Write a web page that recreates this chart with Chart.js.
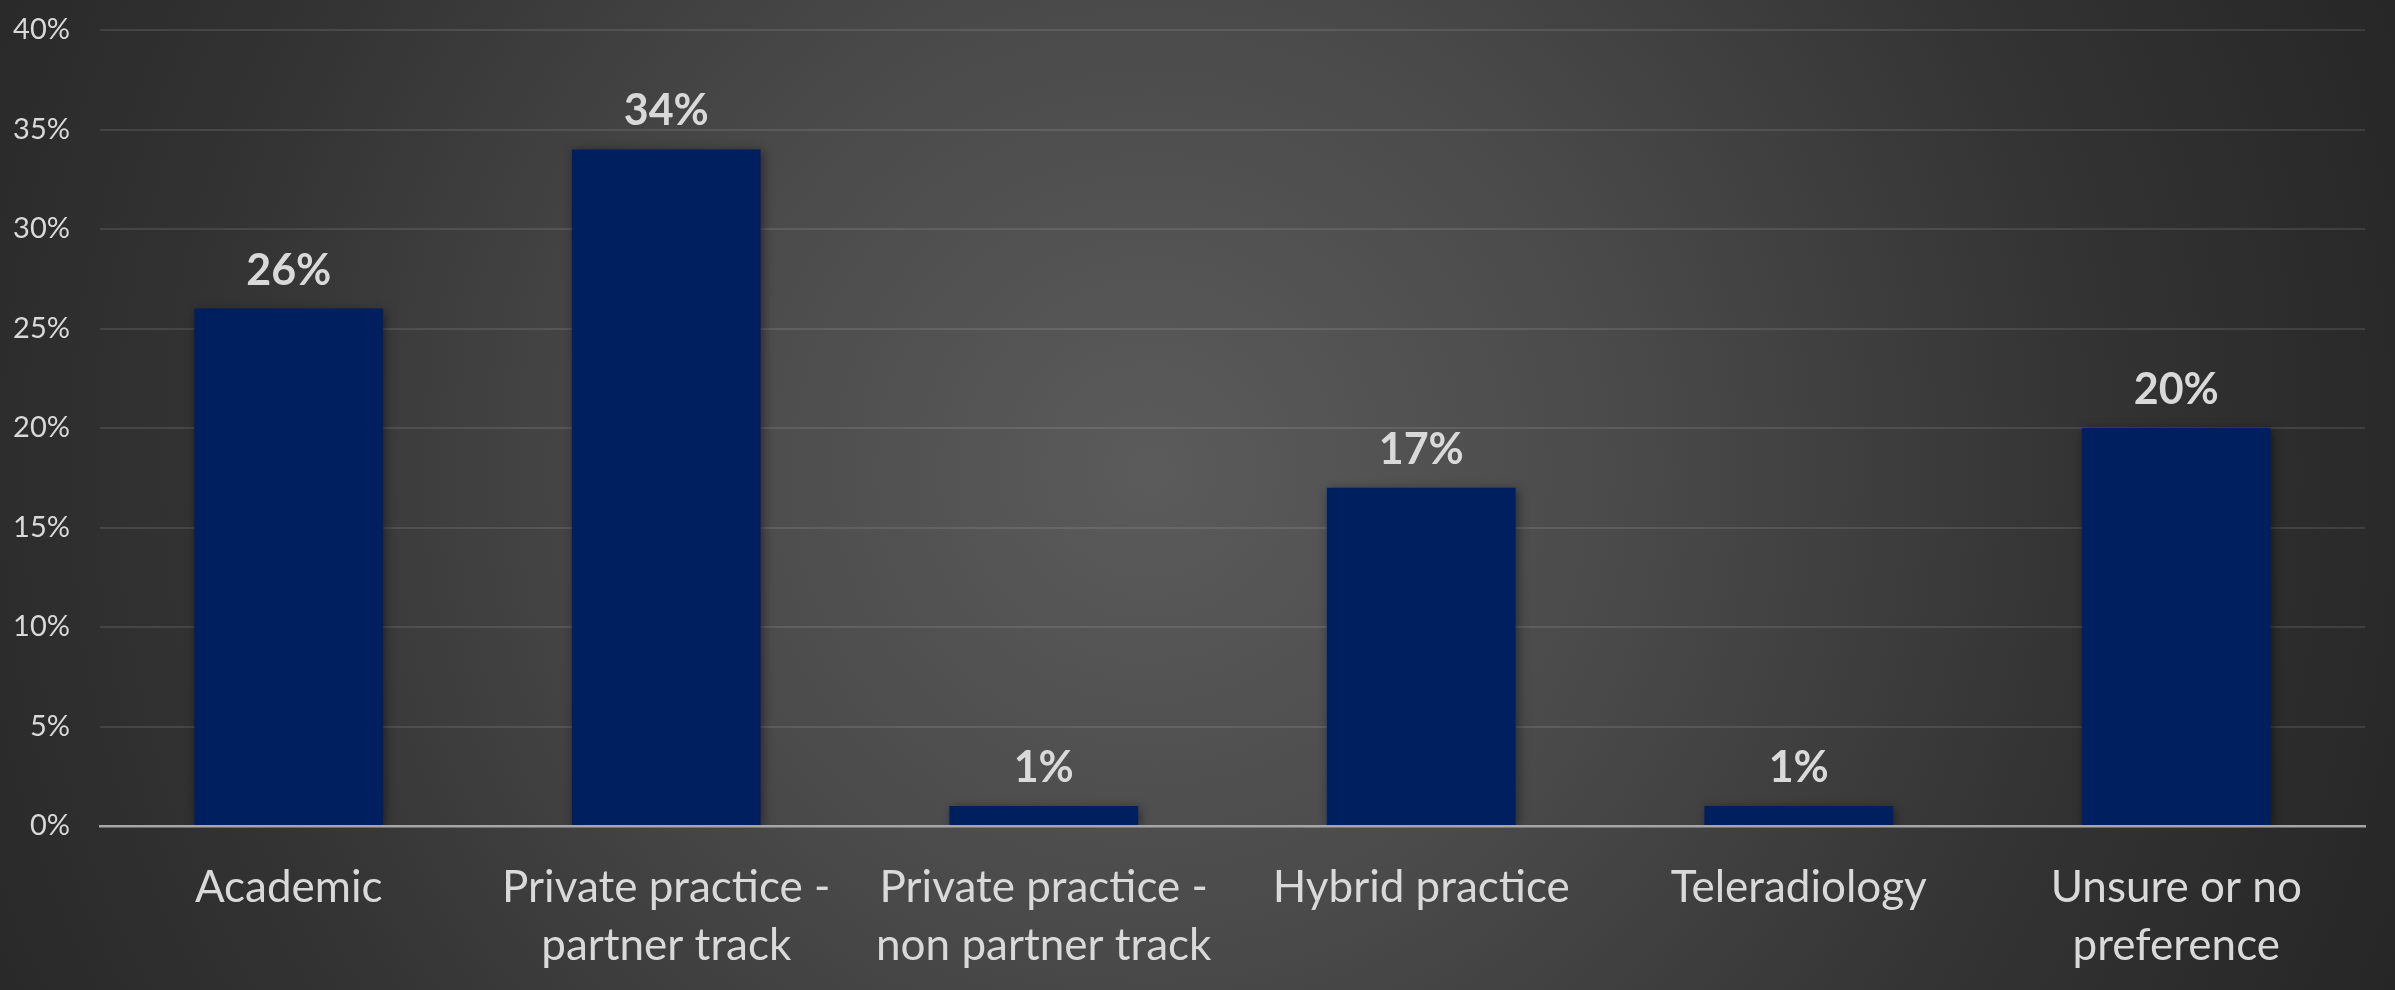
<!DOCTYPE html>
<html>
<head>
<meta charset="utf-8">
<script src="https://cdn.jsdelivr.net/npm/chart.js@4"></script>
<style>
  html, body { margin: 0; padding: 0; }
  body {
    width: 2395px;
    height: 990px;
    overflow: hidden;
    background: radial-gradient(circle 1350px at 1150px 470px, #5b5b5b 0%, #4a4a4a 35%, #333333 70%, #262626 100%);
  }
  #wrap { position: relative; width: 2395px; height: 990px; }
</style>
</head>
<body>
<div id="wrap"><canvas id="chart"></canvas></div>
<script>
const CATEGORIES = [
  "Academic",
  ["Private practice -", "partner track"],
  ["Private practice -", "non partner track"],
  "Hybrid practice",
  "Teleradiology",
  ["Unsure or no", "preference"],
];
const SHARES = [26, 34, 1, 17, 1, 20];
const Y_TICKS = [0, 5, 10, 15, 20, 25, 30, 35, 40];

const TEXT = "#d9d9d9";
const BAR = "#001f5e";
const FONT = "Lato, 'Open Sans', sans-serif";

// Bold percentage over each bar, positioned from the bar element itself.
const valueLabels = {
  id: "valueLabels",
  afterDatasetsDraw(chart) {
    const { ctx } = chart;
    const meta = chart.getDatasetMeta(0);
    ctx.save();
    ctx.font = `bold 43px ${FONT}`;
    ctx.fillStyle = TEXT;
    ctx.textAlign = "center";
    ctx.textBaseline = "alphabetic";
    meta.data.forEach((bar, i) => {
      ctx.fillText(`${SHARES[i]}%`, bar.x, bar.y - 24);
    });
    ctx.restore();
  },
};

// Soft drop shadow under the bars.
const barShadow = {
  id: "barShadow",
  beforeDatasetsDraw(chart) {
    const { ctx } = chart;
    ctx.save();
    ctx.shadowColor = "rgba(0,0,0,0.45)";
    ctx.shadowBlur = 10;
    ctx.shadowOffsetX = 2;
    ctx.shadowOffsetY = 2;
  },
  afterDatasetsDraw(chart) {
    chart.ctx.restore();
  },
};

new Chart(document.getElementById("chart"), {
  type: "bar",
  data: {
    labels: CATEGORIES,
    datasets: [{
      data: SHARES,
      backgroundColor: BAR,
      borderWidth: 0,
      barPercentage: 0.5,
      categoryPercentage: 1,
    }],
  },
  options: {
    responsive: true,
    maintainAspectRatio: false,
    animation: false,
    events: [],
    layout: { padding: { top: 30, right: 30, left: 0, bottom: 0 } },
    plugins: { legend: { display: false }, tooltip: { enabled: false } },
    scales: {
      x: {
        grid: { display: false, drawTicks: false },
        border: { display: true, color: "#a6a6a6", width: 2.5, z: 1 },
        ticks: {
          color: TEXT,
          font: { family: FONT, size: 44, lineHeight: 1.32 },
          padding: 33,
          maxRotation: 0,
          autoSkip: false,
        },
        afterFit: (scale) => { scale.height = 164; },
      },
      y: {
        min: 0,
        max: 40,
        afterBuildTicks: (scale) => { scale.ticks = Y_TICKS.map((v) => ({ value: v })); },
        grid: { color: "rgba(255,255,255,0.1)", lineWidth: 2, drawTicks: false },
        border: { display: false },
        ticks: {
          color: TEXT,
          font: { family: FONT, size: 29 },
          padding: 30,
          callback: (v) => `${v}%`,
        },
        afterFit: (scale) => {
          scale.width = 100;
          scale.paddingTop = 0;
          scale.paddingBottom = 0;
        },
      },
    },
  },
  plugins: [barShadow, valueLabels],
});
</script>
</body>
</html>
